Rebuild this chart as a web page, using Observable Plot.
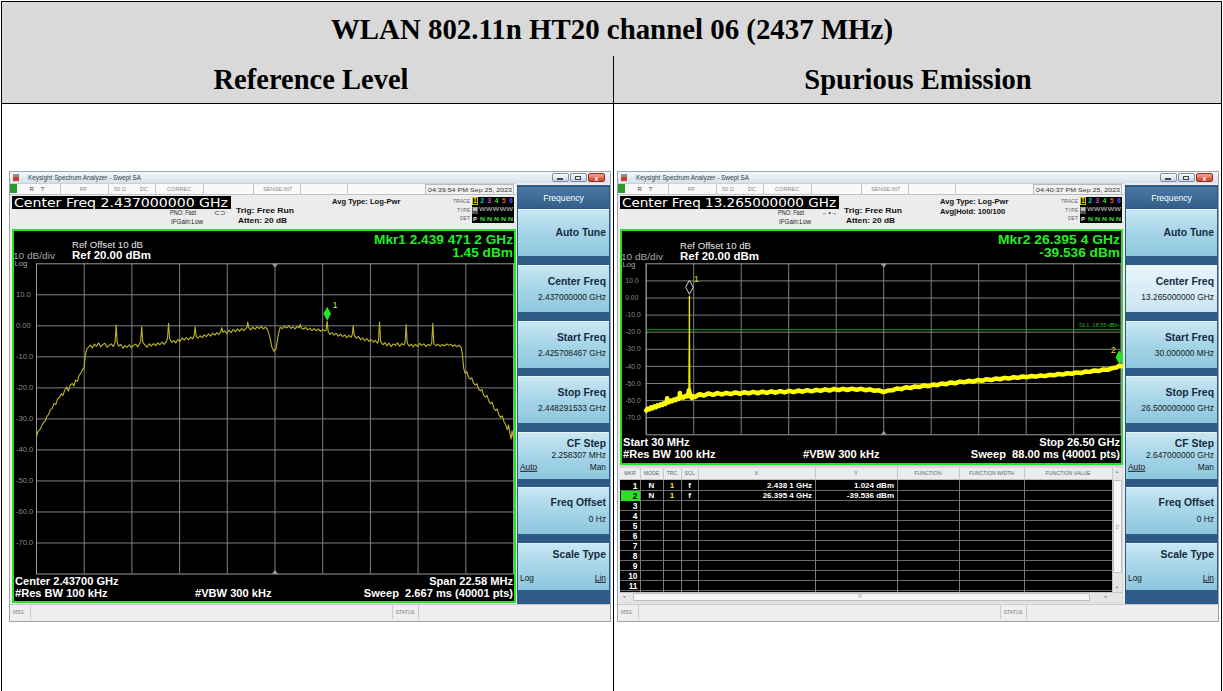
<!DOCTYPE html>
<html>
<head>
<meta charset="utf-8">
<script src="https://cdn.jsdelivr.net/npm/d3@7"></script>
<script src="https://cdn.jsdelivr.net/npm/@observablehq/plot@0.6"></script>
<style>
html,body{margin:0;padding:0;background:#fff;}
#page{position:relative;width:1223px;height:691px;overflow:hidden;font-family:"Liberation Sans",Arial,sans-serif;}
#page div{box-sizing:border-box;}
</style>
</head>
<body>
<div id="page"></div>
<script>
// ================= DATA =================
const titleText = "WLAN 802.11n HT20 channel 06 (2437 MHz)";
const sectionTitles = ["Reference Level", "Spurious Emission"];

// Reference level trace (MHz, dBm)
const refFreqMHz = [2425.71,2425.78,2425.86,2425.95,2426.04,2426.12,2426.20,2426.28,2426.36,2426.45,2426.54,2426.62,2426.70,2426.80,2426.88,2426.96,2427.05,2427.14,2427.22,2427.30,2427.40,2427.48,2427.56,2427.65,2427.72,2427.80,2427.88,2427.96,2428.02,2428.08,2428.16,
2428.25,2428.35,2428.45,2428.55,2428.65,2428.75,2428.85,2428.95,2429.05,2429.15,2429.25,2429.35,2429.43,2429.48,2429.53,2429.60,2429.70,2429.80,2429.90,2430.00,2430.10,2430.20,2430.30,2430.40,2430.50,2430.64,2430.69,2430.74,2430.85,2430.95,
2431.05,2431.15,2431.25,2431.35,2431.45,2431.55,2431.65,2431.75,2431.85,2431.91,2431.96,2432.01,2432.10,2432.20,2432.30,2432.40,2432.50,2432.60,2432.70,2432.80,2432.90,2433.00,2433.10,2433.17,2433.22,2433.27,2433.35,2433.45,2433.55,2433.65,
2433.75,2433.85,2433.95,2434.05,2434.15,2434.25,2434.35,2434.43,2434.48,2434.53,2434.62,2434.72,2434.82,2434.92,2435.02,2435.12,2435.22,2435.32,2435.42,2435.52,2435.62,2435.67,2435.71,2435.76,2435.85,2435.95,2436.05,2436.15,2436.25,2436.35,
2436.45,2436.55,2436.65,2436.75,2436.85,2436.95,2437.05,2437.15,2437.25,2437.35,2437.45,2437.55,2437.65,2437.75,2437.85,2437.95,2438.05,2438.15,2438.20,2438.25,2438.35,2438.45,2438.55,2438.65,2438.75,2438.85,2438.95,2439.05,2439.15,2439.25,
2439.35,2439.42,2439.47,2439.52,2439.60,2439.70,2439.80,2439.90,2440.00,2440.10,2440.20,2440.30,2440.40,2440.50,2440.60,2440.66,2440.70,2440.75,2440.85,2440.95,2441.05,2441.15,2441.25,2441.35,2441.45,2441.55,2441.65,2441.75,2441.85,2441.90,
2441.95,2442.00,2442.10,2442.20,2442.30,2442.40,2442.50,2442.60,2442.70,2442.80,2442.90,2443.00,2443.10,2443.16,2443.21,2443.26,2443.35,2443.45,2443.55,2443.65,2443.75,2443.85,2443.95,2444.05,2444.15,2444.25,2444.35,2444.42,2444.47,2444.52,
2444.62,2444.72,2444.82,2444.92,2445.02,2445.12,2445.22,2445.32,2445.42,2445.52,2445.62,2445.72,2445.82,2445.88,2445.94,2446.00,2446.08,2446.16,2446.24,2446.32,2446.40,2446.48,2446.56,2446.64,2446.72,2446.80,2446.88,2446.96,2447.04,2447.12,
2447.20,2447.28,2447.36,2447.44,2447.52,2447.60,2447.68,2447.76,2447.84,2447.92,2448.00,2448.06,2448.12,2448.18,2448.22,2448.26,2448.29];
const refLevel = [-35.6,-34.1,-33.5,-32.4,-31.2,-30.6,-29.2,-28.6,-27.1,-26.6,-25.0,-25.4,-23.6,-23.1,-21.9,-22.4,-20.6,-19.7,-21.0,-19.2,-18.6,-19.4,-17.5,-17.9,-16.0,-15.3,-14.2,-13.6,-9.5,-7.6,-6.9,
-6.2,-7.1,-5.9,-6.6,-5.5,-6.8,-6.0,-5.6,-6.9,-6.3,-5.8,-6.7,-5.2,0.3,-5.4,-6.5,-6.0,-7.2,-6.4,-6.9,-6.1,-7.0,-6.3,-5.9,-6.8,-5.1,-0.2,-5.3,-6.2,-6.9,
-5.8,-6.5,-5.7,-6.4,-5.5,-6.1,-5.2,-6.0,-5.0,-4.2,0.8,-4.1,-5.3,-4.8,-5.5,-4.4,-5.0,-3.9,-4.6,-3.8,-4.5,-3.6,-4.2,-3.3,-0.3,-3.4,-4.0,-3.2,-3.8,-2.9,
-3.5,-2.6,-3.3,-2.4,-3.0,-2.2,-2.8,-2.0,-0.6,-2.1,-1.6,-2.5,-1.4,-2.2,-1.2,-1.9,-1.0,-1.7,-0.9,-1.5,-0.8,-0.5,1.2,-0.6,-1.3,-0.4,-1.1,-0.3,-0.9,-0.2,
-1.0,-0.4,-1.3,-3.5,-6.8,-8.2,-7.4,-3.0,-0.4,-0.9,-0.1,-0.7,0.0,-0.8,-0.3,-1.0,-0.2,-0.6,0.5,-0.7,-1.1,-0.5,-1.3,-0.8,-1.5,-0.9,-1.6,-1.0,-1.8,-1.2,
-1.6,-1.4,1.45,-1.9,-2.8,-2.2,-3.0,-2.4,-3.3,-2.7,-3.5,-2.9,-3.8,-3.1,-3.7,-2.8,0.1,-3.0,-4.0,-3.4,-4.5,-3.9,-4.8,-4.1,-5.0,-4.4,-5.3,-4.7,-5.6,-4.8,
1.2,-5.0,-6.1,-5.4,-6.4,-5.6,-6.7,-5.8,-6.3,-5.5,-6.6,-5.7,-6.2,-5.4,0.4,-5.6,-6.5,-5.9,-6.8,-6.0,-6.6,-5.7,-6.3,-5.8,-6.7,-6.0,-6.4,-5.5,0.8,-5.7,
-6.4,-5.9,-6.6,-6.0,-6.5,-5.8,-6.3,-5.9,-6.6,-6.1,-6.8,-6.2,-7.0,-9.8,-13.9,-15.3,-14.8,-16.6,-17.2,-16.8,-18.5,-19.1,-18.6,-20.4,-21.0,-20.5,-22.3,-23.0,-22.4,-24.2,
-25.1,-24.6,-26.5,-27.3,-26.8,-28.7,-29.5,-29.0,-30.9,-31.8,-33.5,-32.0,-34.6,-36.5,-33.8,-35.2,-36.0];
const refStartMHz = 2425.708467, refStopMHz = 2448.291533, refCenterMHz = 2437;
const refMarkerFreqMHz = [2439.4712];
const refMarkerLevel = [1.45];
const refMarkerLabel = ["1"];

// Spurious emission trace (GHz, dBm)
const spurFreqGHz = [0.03,0.12,0.21,0.30,0.39,0.48,0.57,0.66,0.75,0.84,0.93,1.02,1.11,1.18,1.20,1.22,1.30,1.39,1.48,1.57,1.66,1.75,1.84,1.89,1.91,1.93,2.02,2.11,2.20,2.28,2.36,2.41,2.435,2.4381,2.441,2.46,2.50,2.58,2.66,2.75,
3.00,3.25,3.50,3.75,4.00,4.25,4.50,4.75,5.00,5.25,5.50,5.75,6.00,6.25,6.50,6.75,7.00,7.25,7.50,7.75,8.00,8.25,8.50,8.75,9.00,9.25,9.50,9.75,10.00,10.25,10.50,10.75,11.00,11.25,11.50,11.75,12.00,12.25,12.50,12.75,
13.00,13.25,13.50,13.75,14.00,14.25,14.50,14.75,15.00,15.25,15.50,15.75,16.00,16.25,16.50,16.75,17.00,17.25,17.50,17.75,18.00,18.25,18.50,18.75,19.00,19.25,19.50,19.75,20.00,20.25,20.50,20.75,21.00,21.25,21.50,21.75,
22.00,22.25,22.50,22.75,23.00,23.25,23.50,23.75,24.00,24.25,24.50,24.75,25.00,25.25,25.50,25.75,26.00,26.25,26.40,26.50];
const spurLevel = [-65.8,-64.6,-65.1,-64.0,-64.6,-63.4,-63.9,-62.8,-63.2,-62.1,-62.6,-61.5,-61.9,-60.8,-58.6,-60.9,-61.0,-60.0,-60.4,-59.4,-59.8,-58.8,-59.1,-58.5,-55.5,-58.4,-58.0,-58.3,-57.3,-57.6,-56.6,-54.0,-20.0,1.02,-25.0,-50.0,-57.8,-58.5,-57.4,-57.9,
-56.3,-57.0,-55.8,-56.6,-55.6,-56.4,-55.5,-56.2,-55.2,-56.0,-55.1,-55.8,-54.9,-55.7,-54.8,-55.5,-54.6,-55.4,-54.5,-55.2,-54.3,-55.0,-54.1,-54.8,-53.9,-54.6,-53.7,-54.3,-53.4,-54.1,-53.2,-53.9,-53.1,-53.8,-53.0,-53.7,-53.1,-53.9,-53.4,-54.3,
-54.0,-55.0,-54.1,-54.0,-52.9,-53.3,-52.2,-52.7,-51.7,-52.1,-51.1,-51.6,-50.6,-51.0,-50.0,-50.4,-49.4,-49.9,-48.9,-49.3,-48.4,-48.9,-48.0,-48.4,-47.5,-48.0,-47.1,-47.5,-46.7,-47.1,-46.3,-46.7,-45.9,-46.3,-45.6,-46.0,
-45.3,-45.7,-44.9,-45.2,-44.4,-44.8,-44.0,-44.3,-43.5,-43.9,-43.0,-43.2,-42.4,-42.7,-41.8,-42.0,-41.0,-40.6,-39.5,-39.9];
const spurStartGHz = 0.03, spurStopGHz = 26.5, spurCenterGHz = 13.265;
const spurMarkerFreqGHz = [2.4381, 26.3954];
const spurMarkerLevel = [1.024, -39.536];
const spurMarkerLabel = ["1", "2"];
const displayLineDbm = -18.55;

const yTickValues = [10, 0, -10, -20, -30, -40, -50, -60, -70];
const topDbm = 20, bottomDbm = -80;

const softkeyLabels = ["Auto Tune", "Center Freq", "Start Freq", "Stop Freq", "CF Step", "Freq Offset", "Scale Type"];
const refSoftkeyValues = ["", "2.437000000 GHz", "2.425708467 GHz", "2.448291533 GHz", "2.258307 MHz", "0 Hz", ""];
const spurSoftkeyValues = ["", "13.265000000 GHz", "30.000000 MHz", "26.500000000 GHz", "2.647000000 GHz", "0 Hz", ""];

const markerTableHeaders = ["MKR", "MODE", "TRC", "SCL", "X", "Y", "FUNCTION", "FUNCTION WIDTH", "FUNCTION VALUE"];
const markerTableRows = [
  ["1", "N", "1", "f", "2.438 1 GHz", "1.024 dBm"],
  ["2", "N", "1", "f", "26.395 4 GHz", "-39.536 dBm"]
];

// ================= HELPERS =================
const page = document.getElementById("page");
const SANS = '"Liberation Sans", Arial, sans-serif';
const SERIF = '"Liberation Serif", "Times New Roman", serif';
function box(x, y, w, h, css = "") {
  const d = document.createElement("div");
  d.style.cssText = `position:absolute;left:${x}px;top:${y}px;width:${w}px;height:${h}px;${css}`;
  page.appendChild(d);
  return d;
}
function txt(x, cy, s, o = {}) {
  const d = document.createElement("div");
  d.textContent = s;
  const a = o.anchor || "start";
  const tx = a === "end" ? "-100%" : a === "middle" ? "-50%" : "0";
  const org = a === "end" ? "right" : a === "middle" ? "center" : "left";
  d.style.cssText = `position:absolute;left:${x}px;top:${cy}px;white-space:pre;line-height:1;font-family:${o.font || SANS};font-size:${o.size || 8}px;font-weight:${o.bold ? "bold" : "normal"};color:${o.color || "#000"};transform-origin:${org} center;${o.css || ""}`;
  page.appendChild(d);
  let sx = 1;
  if (o.w) sx = o.w / d.getBoundingClientRect().width;
  d.style.transform = `translate(${tx},-50%) scaleX(${sx})`;
  return d;
}

// custom symbols
const tallDiamond = {draw(c) { c.moveTo(0, -7); c.lineTo(3.8, 0); c.lineTo(0, 7); c.lineTo(-3.8, 0); c.closePath(); }};
const triDown = {draw(c) { c.moveTo(-3, 0); c.lineTo(3, 0); c.lineTo(0, 4); c.closePath(); }};
const triUp = {draw(c) { c.moveTo(-3, 0); c.lineTo(3, 0); c.lineTo(0, -4); c.closePath(); }};

// ================= PAGE TABLE =================
box(1, 1, 1221, 56, "background:#d9d9d9;border:1px solid #000");
box(1, 56, 613, 48, "background:#d9d9d9;border:1px solid #000;border-top:none");
box(614, 56, 608, 48, "background:#d9d9d9;border:1px solid #000;border-top:none;border-left:none");
box(1, 103, 1, 588, "background:#000");
box(613, 103, 1, 588, "background:#000");
box(1221, 103, 1, 588, "background:#000");
txt(612, 30, titleText, {anchor: "middle", size: 28.5, bold: true, font: SERIF, w: 562});
txt(311, 80, sectionTitles[0], {anchor: "middle", size: 28.5, bold: true, font: SERIF});
txt(918, 80, sectionTitles[1], {anchor: "middle", size: 28.5, bold: true, font: SERIF});

// ================= SPECTRUM PLOT =================
function spectrum(S) {
  const [x0, x1] = S.xDomain;
  const xGrid = d3.range(11).map(i => x0 + (x1 - x0) * i / 10);
  const yGrid = d3.range(-70, 20, 10);
  const trace = S.freq.map((f, i) => ({f, v: S.level[i]}));
  const gridC = "#7f7f7f";
  const marks = [
    Plot.ruleX(xGrid, {stroke: gridC}),
    Plot.ruleY(yGrid, {stroke: gridC}),
    Plot.frame({stroke: "#9a9a9a"}),
    Plot.text(yTickValues, {y: d => d, text: d => d === 0 ? "0.00" : d.toFixed(1), frameAnchor: "left", textAnchor: "start", dx: S.tickDx, fill: "#8a8a8a", fontSize: S.tickSize}),
    Plot.dot([S.center], {x: d => d, y: () => topDbm, symbol: triDown, fill: "#9a9a9a"}),
    Plot.dot([S.center], {x: d => d, y: () => bottomDbm, symbol: triUp, fill: "#9a9a9a"})
  ];
  if (S.dl != null) {
    marks.push(Plot.ruleY([S.dl], {stroke: "#13a313"}));
    marks.push(Plot.text([S.dl], {y: d => d, text: d => `DL1 ${d.toFixed(2)} dBm`, frameAnchor: "right", textAnchor: "end", dx: -2, dy: -4, fill: "#1fb81f", fontSize: 5.5}));
  }
  if (S.thick) {
    marks.push(Plot.line(trace, {x: "f", y: "v", stroke: "#e8e800", strokeWidth: 1.4}));
    marks.push(Plot.line(trace.filter(d => Math.abs(d.f - S.spikeAt) > 0.025), {x: "f", y: "v", stroke: "#ffff00", strokeWidth: 4.5}));
  } else {
    marks.push(Plot.line(trace, {x: "f", y: "v", stroke: "#bdb526", strokeWidth: 1.1}));
  }
  S.markers.forEach(m => {
    const d = [{f: m.f, v: m.v}];
    marks.push(Plot.dot(d, {x: "f", y: "v", symbol: tallDiamond, fill: m.fill, stroke: m.stroke, strokeWidth: 1, dy: m.dy}));
    marks.push(Plot.text(d, {x: "f", y: "v", text: () => m.label, dx: m.ldx, dy: m.ldy, fill: m.lcolor, fontSize: 8.5}));
  });
  const svg = Plot.plot({
    width: S.pw, height: S.ph,
    marginLeft: S.ml, marginRight: S.mr, marginTop: S.mt, marginBottom: S.mb,
    x: {domain: S.xDomain, axis: null},
    y: {domain: [bottomDbm, topDbm], axis: null},
    style: {background: "transparent", fontFamily: SANS, overflow: "visible"},
    marks
  });
  svg.style.position = "absolute";
  svg.style.left = S.px + "px";
  svg.style.top = S.py + "px";
  page.appendChild(svg);
}

// ================= ANALYZER SCREEN =================
function drawScreen(S) {
  const ox = S.ox;
  // frame + title bar
  box(ox + 9, 171, 602, 451, "background:#ececec;border:1px solid #9ca6b2");
  box(ox + 10, 172, 600, 11, "background:linear-gradient(#f5f8fc,#d6e0ec)");
  box(ox + 13, 174, 6, 7, "background:linear-gradient(#8f8f8f 0 50%,#d23b2a 50%)");
  txt(ox + 28, 177.5, "Keysight Spectrum Analyzer - Swept SA", {size: 6.3, color: "#2a3a4a", w: 113});
  box(ox + 552, 173, 17, 9, "background:linear-gradient(#fbfcfe,#c5d1e0);border:1px solid #7f90a6;border-radius:2px");
  box(ox + 570, 173, 17, 9, "background:linear-gradient(#fbfcfe,#c5d1e0);border:1px solid #7f90a6;border-radius:2px");
  box(ox + 588, 173, 17, 9, "background:linear-gradient(#f3a592,#c8412b);border:1px solid #8e2e20;border-radius:2px");
  box(ox + 557, 178, 6, 1.5, "background:#445");
  box(ox + 575, 175.5, 6, 4, "border:1px solid #445");
  txt(ox + 596.5, 177.5, "x", {anchor: "middle", size: 7, bold: true, color: "#fff"});
  // status row
  box(ox + 10, 183, 506, 12, "background:#f9f9f9;border-top:1px solid #d0d0d0;border-bottom:1px solid #c4c4c4");
  box(ox + 10, 184, 7, 9, "background:#2c9a2c");
  [["R", 29.7, "#333"], ["T", 41, "#333"], ["RF", 79.7], ["50 Ω", 114], ["DC", 139.7], ["CORREC", 167], ["SENSE:INT", 263]]
    .forEach(([s, x, c]) => txt(ox + x, 189.5, s, {size: 5.6, color: c || "#8a8a8a"}));
  [59.7, 108, 154.7, 203, 253, 299.7, 346.7].forEach(x => box(ox + x, 184, 1, 10, "background:#c4c4c4"));
  box(ox + 425, 184, 89, 11, "background:#f1f1f1;border:1px solid #b8b8b8");
  txt(ox + 469.5, 190, S.time, {anchor: "middle", size: 6, color: "#333", w: 84});
  // info area
  box(ox + 12, 196, 219, 13, "background:#000");
  txt(ox + 14, 202.8, S.centerFreqText, {size: 12, color: "#fff", font: '"DejaVu Sans", sans-serif', w: 214});
  txt(ox + 196, 213.3, "PNO: Fast", {anchor: "end", size: 6.6, color: "#222", w: 26});
  txt(ox + 171, 221.7, "IFGain:Low", {size: 6.6, color: "#222", w: 32});
  txt(ox + 214, 213.3, S.pnoIcon, {size: 6.5, color: "#333"});
  txt(ox + 236.3, 210.7, "Trig: Free Run", {size: 7.6, bold: true, color: "#111", w: 58});
  txt(ox + 238, 221, "Atten: 20 dB", {size: 7.6, bold: true, color: "#111", w: 49});
  S.avg.forEach((s, i) => txt(ox + 332, 201.7 + i * 10, s, {size: 7.6, bold: true, color: "#111"}));
  // trace block
  [["TRACE", 200.7], ["TYPE", 210], ["DET", 218.3]].forEach(([s, y]) => txt(ox + 470, y, s, {anchor: "end", size: 5, color: "#666"}));
  box(ox + 471.7, 196.7, 42.5, 26.6, "background:#000");
  box(ox + 472.2, 197, 5.5, 8, "border:1px solid #c8c400");
  [["1", "#e8e000"], ["2", "#00d8d8"], ["3", "#e040e0"], ["4", "#2ee02e"], ["5", "#ff5050"], ["6", "#5a5aff"]]
    .forEach(([s, c], i) => txt(ox + 475 + i * 7.2, 201, s, {anchor: "middle", size: 6.4, bold: true, color: c}));
  box(ox + 472.2, 206.5, 5.5, 7.5, "background:#555");
  txt(ox + 475, 210.2, "M", {anchor: "middle", size: 5.6, bold: true, color: "#eee"});
  txt(ox + 479, 210.2, "WWWWW", {size: 5.6, bold: true, color: "#999", w: 34});
  txt(ox + 475, 218.5, "P", {anchor: "middle", size: 6, bold: true, color: "#eee"});
  txt(ox + 479.5, 218.5, "N N N N N", {size: 6, bold: true, color: "#2ee02e", w: 33});
  // softkeys
  box(ox + 517, 185, 93, 419, "background:#2d5b86");
  box(ox + 518, 187, 91, 21, "background:linear-gradient(#4a77a3,#335f8a)");
  txt(ox + 563.5, 197.5, "Frequency", {anchor: "middle", size: 8.6, color: "#fff"});
  softkeyLabels.forEach((lab, i) => {
    const top = 209.3 + i * 55.6;
    const sel = S.selected === i;
    box(ox + 518, top, 91, 47, `background:${sel ? "linear-gradient(#e8f5fb,#c9e5f1)" : "linear-gradient(#c8e7f3,#a2d3e7 55%,#8ec7de)"};border-top:1px solid #e4f4fa`);
    const R = ox + 606;
    const lab2 = {anchor: "end", size: 10.4, bold: true, color: "#152a40"};
    const val = {anchor: "end", size: 8.4, color: "#1a1a1a"};
    if (i === 0) txt(R, top + 23.5, lab, lab2);
    else if (i <= 3) { txt(R, top + 17, lab, lab2); txt(R, top + 32, S.softValues[i], val); }
    else if (i === 4) {
      txt(R, top + 12, lab, lab2); txt(R, top + 23.3, S.softValues[i], val);
      txt(ox + 520, top + 35, "Auto", {size: 8.4, color: "#1a1a1a", css: "text-decoration:underline"});
      txt(R, top + 35, "Man", val);
    } else if (i === 5) { txt(R, top + 16, lab, lab2); txt(R, top + 32, S.softValues[i], val); }
    else {
      txt(R, top + 12, lab, lab2);
      txt(ox + 520, top + 35, "Log", {size: 8.4, color: "#1a1a1a"});
      txt(R, top + 35, "Lin", {anchor: "end", size: 8.4, color: "#1a1a1a", css: "text-decoration:underline"});
    }
  });
  // display panel
  box(S.disp.x, 229, S.disp.w, S.disp.h, "background:#000;border:2px solid #22e622");
  const dx0 = S.disp.x;
  txt(dx0 + 60, 245 + S.tdy, "Ref Offset 10 dB", {size: 9.6, color: "#e6e6e6", w: 71});
  txt(dx0 + 60, 255.5 + S.tdy, "Ref 20.00 dBm", {size: 11.5, bold: true, color: "#fff", w: 79});
  txt(dx0 + 1, 256 + S.tdy, "10 dB/div", {size: 8.3, color: "#a8a8a8", w: 42});
  txt(dx0 + 2.5, 264 + S.tdy, "Log", {size: 7.6, color: "#a8a8a8"});
  txt(dx0 + S.disp.w - 3, 239.5, S.mkr[0], {anchor: "end", size: 13.7, bold: true, color: "#22ee22", w: S.mkrW});
  txt(dx0 + S.disp.w - 3, 253.3, S.mkr[1], {anchor: "end", size: 13.7, bold: true, color: "#22ee22"});
  const [c1, c2] = S.botCy;
  txt(dx0 + 3, c1, S.bottom[0], {size: 11.1, bold: true, color: "#fff"});
  txt(dx0 + 3, c2, "#Res BW 100 kHz", {size: 11.1, bold: true, color: "#fff"});
  txt(dx0 + 183, c2, "#VBW 300 kHz", {size: 11.1, bold: true, color: "#fff"});
  txt(dx0 + S.disp.w - 3, c1, S.bottom[1], {anchor: "end", size: 11.1, bold: true, color: "#fff"});
  txt(dx0 + S.disp.w - 3, c2, S.bottom[2], {anchor: "end", size: 11.1, bold: true, color: "#fff"});
  // message bar
  box(ox + 10, 604, 600, 16, "background:#efefef;border-top:1px solid #c8c8c8");
  txt(ox + 13, 612, "MSG", {size: 5, color: "#7a7a7a"});
  box(ox + 30, 605, 1, 14, "background:#c8c8c8");
  box(ox + 391.7, 605, 27, 14, "border-left:1px solid #c8c8c8;border-right:1px solid #c8c8c8");
  txt(ox + 405.2, 612, "STATUS", {anchor: "middle", size: 5, color: "#7a7a7a"});
}

function drawMarkerTable() {
  const cols = [620, 640, 663, 681, 698, 815, 897, 959, 1024, 1112];
  box(620, 465, 503, 138, "background:#d8d8d8");
  box(620, 468, 492, 12, "background:#ececec;border-bottom:1px solid #bdbdbd");
  markerTableHeaders.forEach((h, i) => txt((cols[i] + cols[i + 1]) / 2, 474.3, h, {anchor: "middle", size: 5.2, color: "#666"}));
  cols.slice(1, -1).forEach(c => box(c, 468, 1, 12, "background:#c8c8c8"));
  box(620, 480, 492, 112, "background:#000");
  for (let k = 1; k <= 11; k++) box(620, 480 + 10 * k, 492, 1, "background:#6a6a6a");
  cols.slice(1, -1).forEach(c => box(c, 480, 1, 112, "background:#7a7a7a"));
  for (let r = 1; r <= 11; r++) {
    const cy = 485.5 + (r - 1) * 10;
    const hl = r === 2;
    if (hl) box(621, cy - 4.5, 19, 9.5, "background:#22e622");
    txt(637.5, cy, String(r), {anchor: "end", size: 8.4, bold: true, color: hl ? "#000" : "#fff"});
  }
  markerTableRows.forEach((row, i) => {
    const cy = 485.5 + i * 10;
    txt(651.5, cy, row[1], {anchor: "middle", size: 8, bold: true, color: "#fff"});
    txt(672, cy, row[2], {anchor: "middle", size: 8, bold: true, color: "#f0f000"});
    txt(689.5, cy, row[3], {anchor: "middle", size: 8, bold: true, color: "#fff"});
    txt(812, cy, row[4], {anchor: "end", size: 8, bold: true, color: "#fff"});
    txt(894, cy, row[5], {anchor: "end", size: 8, bold: true, color: "#fff"});
  });
  // vertical scrollbar
  box(1112, 468, 10, 124, "background:#e6e6e6;border-left:1px solid #c4c4c4");
  txt(1117, 472, "▲", {anchor: "middle", size: 4, color: "#888"});
  txt(1117, 588, "▼", {anchor: "middle", size: 4, color: "#888"});
  box(1113, 480, 8.5, 93, "background:#f6f6f6;border:1px solid #bdbdbd;border-radius:1px");
  txt(1117.2, 527, "≡", {anchor: "middle", size: 6, color: "#999"});
  // horizontal scrollbar
  box(620, 592, 502, 10, "background:#e6e6e6;border-top:1px solid #c4c4c4");
  txt(624, 597, "◄", {anchor: "middle", size: 4, color: "#888"});
  txt(1106, 597, "►", {anchor: "middle", size: 4, color: "#888"});
  box(633, 593, 457, 8, "background:#f6f6f6;border:1px solid #bdbdbd;border-radius:1px");
  txt(860, 597, "III", {anchor: "middle", size: 4.5, color: "#999"});
}

// ================= BUILD =================
drawScreen({
  ox: 0, selected: -1, pnoIcon: "⊂⊃",
  centerFreqText: "Center Freq 2.437000000 GHz", time: "04:39:54 PM Sep 25, 2023",
  avg: ["Avg Type: Log-Pwr"], softValues: refSoftkeyValues,
  disp: {x: 12, w: 504, h: 374}, tdy: 0,
  mkr: ["Mkr1 2.439 471 2 GHz", "1.45 dBm"], mkrW: 139,
  bottom: ["Center 2.43700 GHz", "Span 22.58 MHz", "Sweep  2.667 ms (40001 pts)"], botCy: [581.7, 594.3]
});
spectrum({
  px: 14, py: 231, pw: 500, ph: 370, ml: 22, mr: 1, mt: 32.3, mb: 27.5,
  xDomain: [refStartMHz, refStopMHz], center: refCenterMHz,
  freq: refFreqMHz, level: refLevel, tickDx: -20.5, tickSize: 7.6,
  markers: refMarkerFreqMHz.map((f, i) => ({f, v: refMarkerLevel[i], label: refMarkerLabel[i], fill: "#22e622", stroke: "none", dy: -7.5, ldx: 8, ldy: -16, lcolor: "#c6e65a"}))
});

drawScreen({
  ox: 608, selected: 1, pnoIcon: "←•→",
  centerFreqText: "Center Freq 13.265000000 GHz", time: "04:40:37 PM Sep 25, 2023",
  avg: ["Avg Type: Log-Pwr", "Avg|Hold: 100/100"], softValues: spurSoftkeyValues,
  disp: {x: 620, w: 503, h: 236}, tdy: 1.2,
  mkr: ["Mkr2 26.395 4 GHz", "-39.536 dBm"], mkrW: 122,
  bottom: ["Start 30 MHz", "Stop 26.50 GHz", "Sweep  88.00 ms (40001 pts)"], botCy: [442.7, 455]
});
spectrum({
  px: 622, py: 231, pw: 499, ph: 232, ml: 23.7, mr: 0.3, mt: 32.3, mb: 28.7,
  xDomain: [spurStartGHz, spurStopGHz], center: spurCenterGHz,
  freq: spurFreqGHz, level: spurLevel, tickDx: -21, tickSize: 6.8,
  dl: displayLineDbm, thick: true, spikeAt: spurMarkerFreqGHz[0],
  markers: [
    {f: spurMarkerFreqGHz[0], v: spurMarkerLevel[0], label: spurMarkerLabel[0], fill: "none", stroke: "#d0d0d0", dy: -9, ldx: 7, ldy: -17, lcolor: "#e8e800"},
    {f: spurMarkerFreqGHz[1], v: spurMarkerLevel[1], label: spurMarkerLabel[1], fill: "#22e622", stroke: "none", dy: -8.4, ldx: -6, ldy: -15, lcolor: "#e8e800"}
  ]
});
drawMarkerTable();
</script>
</body>
</html>
